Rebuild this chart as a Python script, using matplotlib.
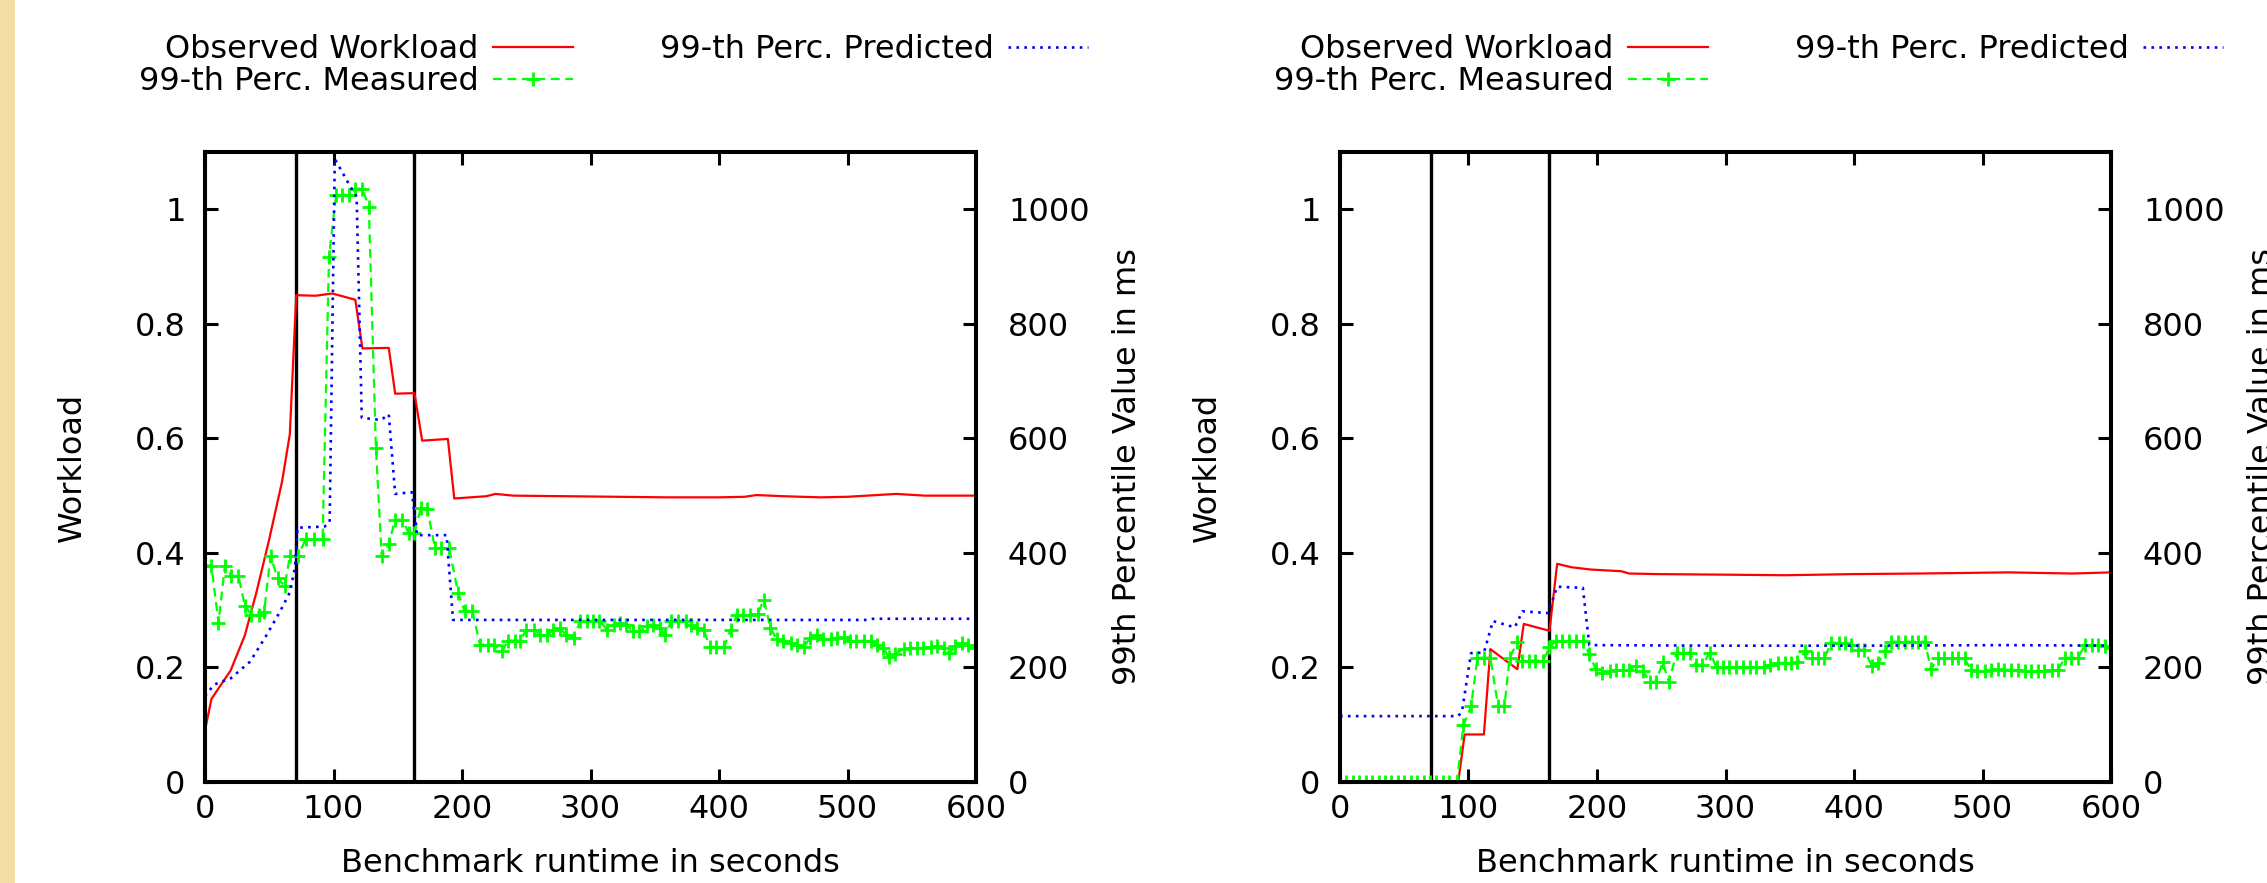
import matplotlib
matplotlib.use('Agg')
import matplotlib.pyplot as plt
from matplotlib.patches import Rectangle

plt.rcParams['font.family'] = 'DejaVu Sans'
plt.rcParams['font.size'] = 23

# ---------------- data: left panel ----------------
t_red_l = [0, 5, 20, 31, 40, 50, 60, 66, 71, 86, 99, 117, 122.5, 143, 148, 163, 169, 189, 194,
           219, 226, 240, 280, 320, 360, 400, 420, 429, 450, 479, 500, 538, 560, 600]
red_l = [0.09, 0.145, 0.195, 0.256, 0.331, 0.424, 0.525, 0.607, 0.850, 0.849, 0.853, 0.842, 0.757,
         0.758, 0.678, 0.679, 0.596, 0.599, 0.495, 0.499, 0.503, 0.500, 0.499, 0.498, 0.497, 0.497,
         0.498, 0.501, 0.499, 0.497, 0.498, 0.503, 0.500, 0.500]

t_pred_l = [0, 7, 20, 35, 47, 58, 66, 70, 72, 93, 97, 101, 113, 118, 122, 137, 143, 148, 161, 165,
            188, 193, 300, 400, 515, 520, 600]
pred_l = [150, 170, 181, 210, 253, 296, 331, 374, 444, 446, 453, 1088, 1040, 1022, 636, 632, 642,
          503, 506, 431, 431, 283, 283, 283, 283, 285, 285]

t_meas_l = [0, 5, 10.5, 15.5, 20.5, 26, 31, 36, 42, 46, 51, 56.5, 62, 66, 72, 78.5, 85, 91.5, 96.5,
            102, 107, 112, 117, 122.5, 127.5, 133, 137.5, 143, 148, 153.5, 158.5, 163, 168, 173,
            179, 184, 190, 197, 202, 208, 214, 220, 225, 231, 236, 241, 245, 250, 256, 261, 266,
            271, 276, 281, 287, 292, 297, 302, 307, 313, 318, 323, 328, 333, 338, 344, 349, 354,
            358, 363, 368, 374, 378, 383, 388, 393, 398, 404, 409, 414, 419, 424, 430, 435, 440,
            445, 450, 456, 461, 466, 471, 476, 481, 487, 492, 497, 502, 507, 513, 518, 523, 528,
            532, 537, 544, 549, 554, 559, 565, 570, 575, 579, 584, 589, 594, 600]
meas_l = [378, 378, 278, 378, 360, 360, 308, 292, 292, 297, 394, 356, 342, 394, 394, 424, 424, 424,
          917, 1025, 1025, 1025, 1036, 1036, 1004, 583, 394, 415, 458, 458, 435, 435, 479, 476,
          408, 408, 408, 330, 299, 299, 240, 240, 240, 228, 247, 247, 247, 265, 265, 257, 257,
          265, 269, 257, 252, 281, 281, 281, 281, 266, 275, 278, 275, 263, 263, 272, 275, 269,
          257, 281, 281, 281, 275, 269, 265, 236, 236, 236, 266, 291, 291, 291, 294, 318, 269,
          249, 246, 243, 240, 236, 252, 256, 250, 250, 252, 254, 246, 246, 247, 246, 240, 234,
          218, 224, 232, 234, 234, 234, 236, 237, 234, 225, 237, 243, 240, 234]

# ---------------- data: right panel ----------------
t_red_r = [0, 92, 97, 112, 117, 138, 143, 163, 169, 180, 195, 219, 225, 247, 300, 346, 400, 450,
           520, 570, 600]
red_r = [0, 0, 0.083, 0.083, 0.232, 0.197, 0.276, 0.264, 0.381, 0.375, 0.371, 0.368, 0.364, 0.363,
         0.362, 0.361, 0.363, 0.364, 0.366, 0.364, 0.366]

t_pred_r = [0, 92, 95, 102, 112, 119, 136, 142, 162, 169, 189, 194, 300, 400, 520, 600]
pred_r = [115, 115, 124, 225, 226, 281, 270, 298, 295, 341, 339, 239, 238, 238, 239, 238]

t_meas_r = [0, 5, 10, 15, 20, 25, 30, 35, 40, 45, 50, 55, 60, 65, 70, 75, 80, 85, 91, 96, 102, 107,
            112, 117, 123, 128, 132, 138, 142, 147, 152, 158, 163, 168, 173, 178, 184, 189, 194,
            199, 204, 210, 215, 220, 225, 230, 236, 241, 246, 251, 256, 262, 267, 272, 277, 282,
            288, 293, 298, 303, 308, 314, 319, 324, 330, 335, 341, 346, 351, 356, 362, 367, 372,
            377, 382, 388, 393, 398, 403, 408, 414, 419, 424, 429, 434, 440, 445, 450, 455, 460,
            465, 470, 476, 481, 486, 491, 496, 502, 507, 512, 517, 522, 528, 533, 538, 543, 548,
            554, 559, 564, 569, 574, 580, 585, 590, 595, 600]
meas_r = [0, 0, 0, 0, 0, 0, 0, 0, 0, 0, 0, 0, 0, 0, 0, 0, 0, 0, 0, 99, 132, 217, 217, 217, 133,
          133, 217, 244, 212, 212, 212, 212, 235, 246, 246, 246, 246, 246, 223, 197, 190, 193,
          195, 195, 195, 203, 193, 175, 175, 209, 175, 226, 226, 226, 205, 205, 226, 200, 200,
          200, 200, 200, 200, 200, 200, 205, 208, 208, 208, 209, 228, 216, 216, 216, 243, 243,
          242, 240, 231, 231, 202, 208, 228, 245, 245, 245, 245, 245, 245, 197, 216, 216, 216,
          216, 216, 196, 193, 193, 196, 197, 196, 196, 195, 193, 193, 193, 193, 196, 196, 217,
          217, 217, 239, 239, 239, 237, 234]

phase_marks = [71, 163]
x_ticks = [0, 100, 200, 300, 400, 500, 600]
wl_ticks = [0, 0.2, 0.4, 0.6, 0.8, 1]
wl_labels = ['0', '0.2', '0.4', '0.6', '0.8', '1']
ms_ticks = [0, 200, 400, 600, 800, 1000]

fig = plt.figure(figsize=(22.67, 8.83), dpi=100)
fig.patches.append(Rectangle((0, 0), 15 / 2267, 1, transform=fig.transFigure,
                             facecolor='#F3DFA6', edgecolor='none', zorder=0))


def draw_panel(rect, t_red, red, t_meas, meas, t_pred, pred):
    ax = fig.add_axes(rect)
    ax2 = ax.twinx()

    for x in phase_marks:
        ax.axvline(x, color='black', lw=2.4, zorder=1)
    l_red, = ax.plot(t_red, red, color='#ff0000', lw=1.6, label='Observed Workload', zorder=3)
    l_meas, = ax2.plot(t_meas, meas, color='#00ff00', lw=1.6, dashes=(4, 2.5), marker='+',
                       ms=10, mew=2, label='99-th Perc. Measured')
    l_pred, = ax2.plot(t_pred, pred, color='#0000ff', lw=1.9, dashes=(1.0, 2.0),
                       label='99-th Perc. Predicted')

    ax.set_xlim(0, 600)
    ax.set_ylim(0, 1.1)
    ax2.set_ylim(0, 1100)
    ax.set_xticks(x_ticks)
    ax.set_xticklabels([str(v) for v in x_ticks])
    ax.set_yticks(wl_ticks)
    ax.set_yticklabels(wl_labels)
    ax2.set_yticks(ms_ticks)
    ax2.set_yticklabels([str(v) for v in ms_ticks])

    ax.tick_params(axis='x', direction='in', length=9.5, width=2.2, top=True, pad=9)
    ax.tick_params(axis='y', direction='in', length=9.5, width=2.2, right=False, pad=14)
    ax2.tick_params(axis='y', direction='in', length=9.5, width=2.2, pad=23)
    for a in (ax, ax2):
        for s in a.spines.values():
            s.set_linewidth(2.9)

    ax.set_xlabel('Benchmark runtime in seconds')
    ax.xaxis.set_label_coords(0.5, -0.105)
    ax.set_ylabel('Workload')
    ax.yaxis.set_label_coords(-0.152, 0.5)
    ax2.set_ylabel('99th Percentile Value in ms')
    ax2.yaxis.set_label_coords(1.176, 0.5)

    ax2.legend(handles=[l_red, l_meas, l_pred], ncol=2, loc='upper left',
               bbox_to_anchor=(-0.0856, 1.187), frameon=False, markerfirst=False,
               handlelength=2.5, handletextpad=0.45, columnspacing=2.72,
               labelspacing=0.04, borderpad=0, borderaxespad=0, numpoints=1)
    return ax


draw_panel([205 / 2267, 101 / 883, 771 / 2267, 630 / 883],
           t_red_l, red_l, t_meas_l, meas_l, t_pred_l, pred_l)
draw_panel([1340 / 2267, 101 / 883, 771 / 2267, 630 / 883],
           t_red_r, red_r, t_meas_r, meas_r, t_pred_r, pred_r)

fig.savefig('out.png', dpi=100)
